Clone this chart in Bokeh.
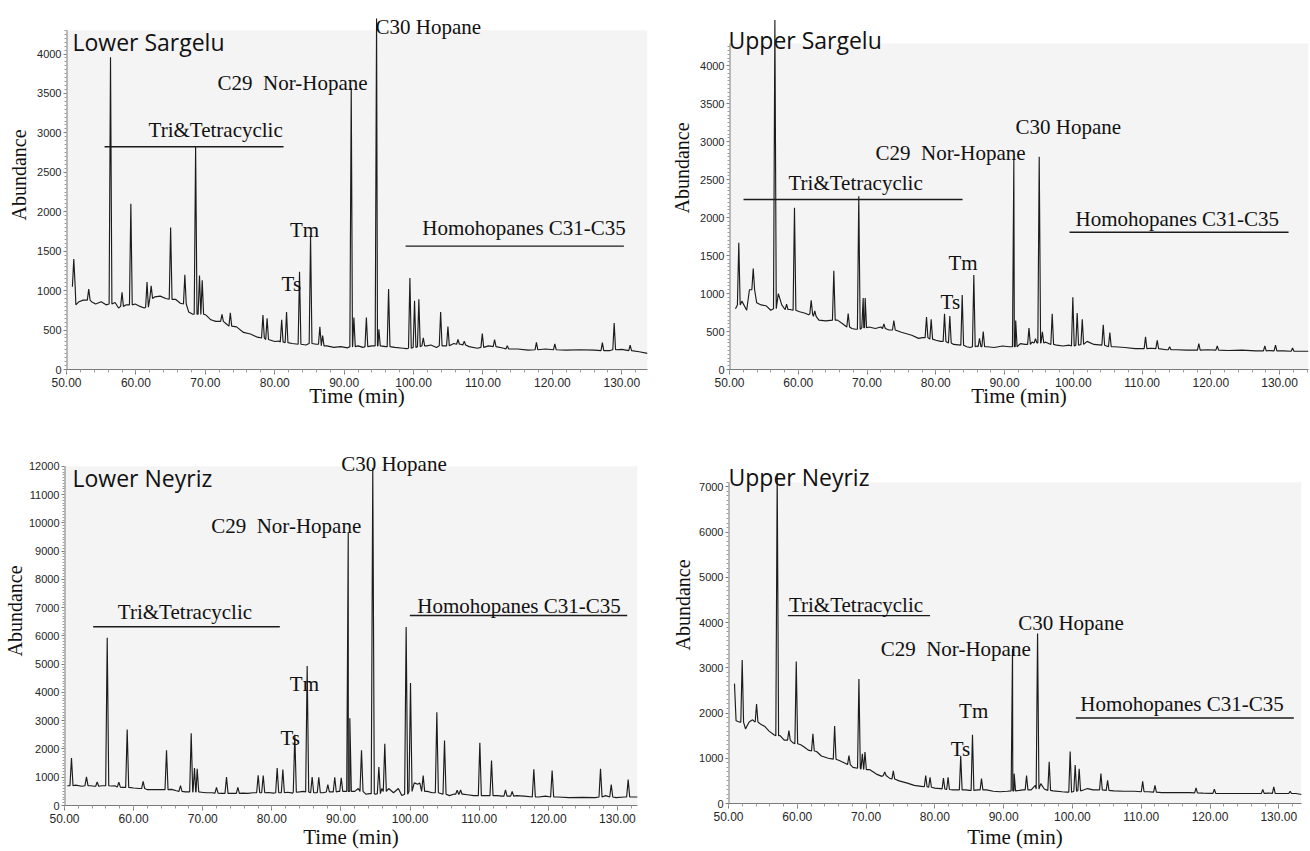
import numpy as np
from bokeh.plotting import figure
from bokeh.models import (Range1d, Label, Title, SingleIntervalTicker, FixedTicker, NumeralTickFormatter,
                          BoxAnnotation)
from bokeh.layouts import row, column
from bokeh.embed import file_html
from bokeh.resources import INLINE

# ---------------- DATA ----------------
# Lower Sargelu
ls_base_t = [50.85, 51.35, 51.8, 52.4, 53.6, 54.2, 55.0, 55.7, 57.0, 57.5, 58.6, 59.9, 60.6, 61.2, 62.7, 63.5, 64.3,
             65.7, 66.4, 67.6, 68.2, 70.1, 70.8, 71.5, 73.0, 74.5, 75.5, 76.5, 77.5, 80.0, 80.6, 82.5, 84.5, 86.0,
             87.5, 88.5, 89.5, 90.5, 92.0, 92.7, 94.0, 96.0, 97.3, 98.5, 99.0, 101.9, 102.5, 103.3, 105.8, 106.8,
             108.0, 109.2, 110.8, 113.0, 115.0, 116.5, 119.0, 122.0, 124.0, 126.0, 128.3, 130.0, 132.5, 133.7]
ls_base_v = [1050, 820, 860, 880, 860, 830, 860, 820, 850, 780, 820, 830, 800, 780, 920, 930, 900,
             890, 840, 730, 700, 690, 630, 610, 580, 540, 470, 450, 410, 355, 360, 330, 310, 320,
             300, 280, 290, 275, 300, 280, 300, 290, 280, 270, 265, 300, 310, 280, 330, 320,
             290, 270, 300, 270, 260, 245, 260, 245, 250, 245, 240, 255, 225, 205]
ls_peak_t = [51.05, 53.2, 56.34, 58.0, 59.27, 61.6, 62.2, 65.0, 67.05, 68.6, 69.16, 69.55, 72.4, 73.6, 78.3,
             78.9, 81.0, 81.7, 83.57, 85.16, 86.5, 86.9, 91.02, 91.4, 93.2, 94.67, 95.0, 96.4, 99.47, 100.14,
             100.76, 101.4, 103.9, 104.95, 106.4, 107.3, 109.9, 111.67, 113.5, 117.7, 120.35, 127.2, 128.9, 131.2]
ls_peak_h = [1400, 1020, 3960, 980, 2100, 1110, 1060, 1800, 1200, 2830, 1190, 1130, 700, 720, 690,
             650, 630, 730, 1240, 1690, 540, 430, 3570, 660, 660, 4450, 510, 1020, 1160, 870,
             890, 400, 730, 545, 380, 360, 455, 380, 300, 345, 325, 340, 590, 310]
ls_peak_b = [1050, 880, 830, 800, 820, 790, 900, 890, 830, 700, 700, 700, 610, 550, 400,
             380, 350, 340, 320, 330, 320, 300, 290, 290, 290, 300, 300, 290, 270, 280,
             290, 300, 300, 300, 320, 310, 280, 290, 260, 250, 250, 240, 250, 240]

# Upper Sargelu
us_base_t = [50.87, 51.8, 52.5, 52.9, 53.95, 54.6, 55.3, 56.0, 57.1, 57.6, 58.0, 58.8, 60.2, 61.0, 61.5, 63.0,
             64.0, 65.7, 66.5, 67.8, 68.3, 70.3, 71.2, 72.0, 73.2, 75.0, 76.5, 77.5, 78.1, 80.0, 80.7, 82.6,
             84.5, 85.0, 86.0, 87.5, 88.5, 89.7, 90.7, 92.3, 93.0, 94.0, 96.0, 97.6, 98.5, 99.4, 102.0, 103.0,
             106.0, 107.5, 109.0, 111.3, 113.5, 115.0, 116.5, 119.5, 122.5, 124.5, 126.5, 128.5, 130.5, 133.0, 134.2]
us_base_v = [800, 900, 780, 1050, 880, 850, 840, 780, 1000, 850, 800, 790, 760, 740, 720, 650,
             640, 650, 600, 540, 530, 560, 540, 560, 520, 490, 450, 410, 420, 385, 370, 330,
             300, 290, 310, 300, 290, 310, 300, 340, 330, 360, 360, 320, 310, 320, 370, 330,
             300, 290, 275, 280, 260, 260, 255, 260, 250, 255, 245, 250, 245, 240, 240]
us_peak_t = [51.35, 53.45, 56.6, 58.3, 59.45, 61.88, 62.4, 65.17, 67.26, 68.8, 69.44, 69.73, 72.45, 73.9, 78.65,
             79.33, 81.27, 82.04, 83.84, 85.53, 86.36, 86.9, 91.35, 91.62, 93.55, 94.5, 95.04, 95.5, 96.93, 99.93,
             100.56, 101.3, 104.35, 105.31, 110.5, 112.2, 114.0, 118.25, 120.93, 127.85, 129.4, 131.88]
us_peak_h = [1670, 1330, 4600, 860, 2130, 910, 770, 1300, 735, 2280, 940, 940, 600, 645, 690,
             660, 735, 705, 980, 1245, 410, 500, 2760, 645, 545, 405, 2800, 495, 735, 950,
             745, 660, 590, 485, 430, 385, 300, 340, 310, 310, 320, 285]
us_peak_b = [850, 1050, 800, 790, 780, 730, 700, 650, 560, 530, 550, 550, 540, 520, 420,
             400, 370, 350, 320, 300, 300, 300, 300, 300, 330, 350, 350, 350, 330, 310,
             320, 330, 320, 300, 275, 275, 260, 255, 255, 245, 245, 240]

# Lower Neyriz
ln_base_t = [50.4, 51.6, 52.5, 53.8, 54.3, 55.4, 56.8, 57.3, 58.4, 60.0, 60.8, 62.0, 63.2, 64.3, 65.5, 66.2,
             67.5, 69.8, 70.5, 71.3, 72.7, 74.2, 75.8, 76.5, 77.3, 79.5, 80.2, 82.3, 83.0, 84.0, 84.6, 86.3,
             87.4, 88.6, 89.6, 90.6, 92.0, 92.5, 93.6, 94.1, 95.0, 95.9, 96.9, 97.6, 98.3, 98.8, 100.6, 101.1,
             101.4, 102.5, 103.2, 105.7, 106.3, 107.6, 108.3, 109.2, 110.8, 112.6, 113.3, 115.4, 116.5, 118.6,
             119.6, 121.4, 123.0, 125.0, 126.8, 128.3, 129.8, 131.0, 132.3, 132.9]
ln_base_v = [700, 720, 680, 700, 680, 700, 690, 700, 640, 620, 600, 560, 560, 560, 570, 520,
             480, 470, 450, 450, 430, 430, 440, 430, 450, 460, 440, 470, 440, 480, 500, 450,
             450, 480, 500, 500, 500, 600, 400, 420, 400, 600, 600, 450, 600, 350, 800, 750,
             800, 500, 450, 350, 400, 400, 380, 350, 350, 350, 330, 350, 330, 300,
             330, 300, 280, 290, 280, 350, 280, 300, 300, 300]
ln_peak_t = [51.01, 53.18, 54.73, 56.18, 57.86, 59.07, 61.38, 64.76, 66.78, 68.33, 68.81, 69.2, 71.99, 73.44,
             75.08, 78.02, 78.75, 80.77, 81.59, 83.32, 85.11, 85.83, 86.79, 88.1, 89.1, 90.04, 91.05, 91.28,
             92.97, 94.6, 95.48, 96.34, 99.43, 100.06, 101.89, 103.87, 104.98, 106.81, 107.3, 110.09, 111.78,
             113.8, 114.77, 117.9, 120.55, 127.55, 129.1, 131.55]
ln_peak_h = [1680, 1010, 830, 5940, 830, 2690, 850, 1950, 700, 2560, 1330, 1300, 640, 1010,
             640, 1070, 1060, 1330, 1270, 2500, 4940, 1010, 1000, 740, 1000, 980, 9650, 3090,
             1950, 11950, 1360, 2180, 6320, 4330, 1060, 3300, 2300, 540, 550, 2220, 1590,
             550, 500, 1280, 1240, 1300, 740, 915]
ln_peak_b = [700, 700, 680, 700, 650, 640, 600, 560, 500, 480, 480, 480, 440, 430,
             430, 450, 450, 450, 450, 470, 480, 450, 450, 480, 480, 500, 500, 500,
             500, 420, 420, 500, 400, 500, 500, 450, 400, 400, 400, 350, 350,
             330, 330, 300, 300, 300, 300, 300]

# Upper Neyriz
un_base_t = [50.87, 51.1, 51.6, 52.47, 53.0, 53.5, 54.7, 55.3, 55.9, 56.6, 57.5, 58.1, 59.3, 60.5, 61.0, 61.6,
             62.8, 63.5, 64.5, 66.1, 66.8, 68.1, 70.5, 71.5, 72.3, 73.4, 74.8, 76.0, 77.0, 78.0, 80.0, 80.8,
             82.6, 83.3, 84.5, 85.0, 86.2, 87.5, 88.5, 89.5, 90.5, 92.3, 92.8, 94.0, 94.6, 95.4, 95.9, 97.2,
             98.5, 99.2, 101.6, 102.2, 103.0, 106.0, 107.5, 109.0, 111.0, 113.0, 115.0, 117.0, 119.0, 122.0,
             124.5, 126.5, 128.5, 130.3, 132.5, 133.3]
un_base_v = [2650, 1830, 1800, 1650, 1800, 1850, 1750, 1700, 1600, 1520, 1500, 1400, 1350, 1300, 1250, 1180,
             1150, 1050, 1000, 950, 900, 800, 750, 650, 600, 560, 500, 450, 400, 380, 340, 330,
             300, 300, 300, 290, 300, 300, 270, 260, 270, 290, 300, 300, 400, 440, 320, 280,
             260, 250, 300, 330, 300, 280, 270, 270, 260, 240, 240, 240, 230, 220,
             220, 220, 230, 220, 220, 200]
un_peak_t = [51.99, 54.08, 57.08, 58.78, 59.85, 62.27, 65.43, 67.51, 68.96, 69.46, 69.84, 72.71, 73.96, 78.67,
             79.3, 81.25, 81.92, 83.76, 85.47, 86.78, 91.29, 91.53, 93.33, 94.93, 96.62, 99.67, 100.4, 100.98,
             104.14, 105.11, 110.21, 112.0, 117.97, 120.63, 127.67, 129.27, 131.65]
un_peak_h = [3170, 2200, 7300, 1610, 3140, 1540, 1710, 1060, 2750, 1100, 1140, 700, 720, 620,
             580, 560, 580, 1050, 1520, 550, 3420, 660, 620, 3760, 920, 1150, 850, 770,
             660, 510, 490, 400, 345, 315, 310, 365, 270]
un_peak_b = [1800, 1800, 1500, 1400, 1320, 1160, 980, 860, 780, 760, 750, 620, 540, 370,
             360, 320, 310, 300, 290, 300, 280, 280, 300, 320, 290, 250, 270, 280,
             300, 290, 260, 250, 235, 225, 225, 225, 220]

# ---------------- rendering helpers ----------------
INK = "#1c1c1c"
SERIF = "Liberation Serif"
AXIS = "#7a7a7a"
GRAY = "#f4f4f4"


def build_trace(bt, bv, pt, ph, pb, w):
    pts = [(t, v) for t, v in zip(bt, bv) if all(abs(t - p) > w for p in pt)]
    for t, h, b in zip(pt, ph, pb):
        pts += [(t - w, b), (t, h), (t + w, b)]
    pts.sort(key=lambda q: q[0])
    return [q[0] for q in pts], [q[1] for q in pts]


def make_panel(cfg):
    p = figure(width=cfg["size"][0], height=cfg["size"][1], output_backend="svg", toolbar_location=None,
               x_range=Range1d(50, cfg["xmax"]), y_range=Range1d(0, cfg["ymax"]),
               min_border_left=cfg["border"][0], min_border_right=cfg["border"][1],
               min_border_top=cfg["border"][2], min_border_bottom=cfg["border"][3])
    p.frame_align = False
    p.background_fill_color = "white"
    p.border_fill_color = "white"
    p.outline_line_color = None
    p.grid.visible = False

    gtop = cfg["gray_top"]
    # grey chart box (the frame is extended upward to hold the labels that sit above it)
    p.add_layout(BoxAnnotation(top=gtop, fill_color=GRAY, fill_alpha=1.0, line_color=None, level="underlay"))

    xa = p.xaxis[0]
    xa.ticker = SingleIntervalTicker(interval=10, num_minor_ticks=5)
    xa.formatter = NumeralTickFormatter(format="0.00")
    ya = p.yaxis[0]
    step = cfg["ystep"]
    majors = list(range(0, int(gtop) + 1, step))
    minors = [v for v in range(0, int(gtop) + 1, step // 10) if v % step]
    ya.ticker = FixedTicker(ticks=majors, minor_ticks=minors)
    for ax in (xa, ya):
        ax.axis_line_color = AXIS
        ax.major_tick_line_color = AXIS
        ax.minor_tick_line_color = "#9a9a9a"
        ax.major_tick_in = 0
        ax.minor_tick_in = 0
        ax.major_label_text_font = "Liberation Sans"
        ax.major_label_text_color = "#262626"
    ya.axis_line_color = None
    xa.major_tick_out = 5
    xa.minor_tick_out = 3
    xa.major_label_standoff = 3
    xa.major_label_text_font_size = "12px"
    xa.axis_label = "Time (min)"
    xa.axis_label_text_font = SERIF
    xa.axis_label_text_font_size = "21px"
    xa.axis_label_text_font_style = "normal"
    xa.axis_label_text_color = "#111111"
    xa.axis_label_standoff = cfg["time_standoff"]
    ya.major_tick_out = 3
    ya.minor_tick_out = 2
    ya.major_label_standoff = 2
    ya.major_label_text_font_size = "11px"

    p.add_layout(Title(text="Abundance", align="left", offset=cfg["abund_offset"], standoff=cfg["abund_standoff"],
                       vertical_align="bottom", text_font=SERIF, text_font_size="20px",
                       text_font_style="normal", text_color="#111111"), "left")

    # y axis line, stopping at the top of the grey box
    p.segment(x0=[50], y0=[0], x1=[50], y1=[gtop], line_color=AXIS, line_width=2)

    tx, ty = build_trace(*cfg["data"], cfg["w"])
    p.line(tx, ty, line_color=INK, line_width=1.15)

    segs = cfg["segs"]
    p.segment(x0=[s[0] for s in segs], x1=[s[1] for s in segs], y0=[s[2] for s in segs],
              y1=[s[2] for s in segs], line_color=INK, line_width=1.4)

    tx0, ty0 = cfg["title_pos"]
    p.add_layout(Label(x=tx0, y=ty0, text=cfg["title"], text_font="Open Sans", text_font_size="23px",
                       text_color="#111111", text_align="left", text_baseline="alphabetic"))
    for text, x, y in cfg["labels"]:
        p.add_layout(Label(x=x, y=y, text=text, text_font=SERIF, text_font_size="21px", text_color="#111111",
                           text_align="left", text_baseline="alphabetic"))
    return p


NOR = "C29\u00a0 Nor-Hopane"

cfg1 = dict(size=(655, 410), border=(66, 8, 8, 39), xmax=133.7, ymax=4577, gray_top=4300, ystep=500, w=0.2,
            data=(ls_base_t, ls_base_v, ls_peak_t, ls_peak_h, ls_peak_b),
            title="Lower Sargelu", title_pos=(50.86, 4155),
            labels=[("C30 Hopane", 94.52, 4342), (NOR, 71.76, 3636), ("Tri&Tetracyclic", 61.82, 3039),
                    ("Tm", 82.18, 1765), ("Ts", 80.98, 1080), ("Homohopanes C31-C35", 101.25, 1800)],
            segs=[(55.48, 81.27, 2825), (98.85, 130.3, 1564)],
            abund_offset=149, abund_standoff=9, time_standoff=-6)

cfg2 = dict(size=(655, 410), border=(74, 2, 18, 39), xmax=134.2, ymax=4621, gray_top=4291, ystep=500, w=0.2,
            data=(us_base_t, us_base_v, us_peak_t, us_peak_h, us_peak_b),
            title="Upper Sargelu", title_pos=(49.85, 4333),
            labels=[("C30 Hopane", 91.59, 3198), (NOR, 71.23, 2850), ("Tri&Tetracyclic", 58.58, 2457),
                    ("Tm", 81.85, 1401), ("Ts", 80.69, 886), ("Homohopanes C31-C35", 100.32, 1977)],
            segs=[(52.04, 83.89, 2238), (99.45, 131.3, 1806)],
            abund_offset=156, abund_standoff=10, time_standoff=-6)

cfg3 = dict(size=(655, 441), border=(64, 18, 34, 44), xmax=132.9, ymax=12774, gray_top=12000, ystep=1000,
            w=0.22,
            data=(ln_base_t, ln_base_v, ln_peak_t, ln_peak_h, ln_peak_b),
            title="Lower Neyriz", title_pos=(51.16, 11602),
            labels=[("C30 Hopane", 90.03, 12095), (NOR, 71.22, 9888), ("Tri&Tetracyclic", 57.72, 6838),
                    ("Tm", 82.6, 4293), ("Ts", 81.25, 2382), ("Homohopanes C31-C35", 101.03, 7048)],
            segs=[(54.15, 81.15, 6324), (99.96, 131.41, 6721)],
            abund_offset=149, abund_standoff=0, time_standoff=-1)

cfg4 = dict(size=(655, 441), border=(73, 9, 45, 46), xmax=133.3, ymax=7693, gray_top=7100, ystep=1000, w=0.2,
            data=(un_base_t, un_base_v, un_peak_t, un_peak_h, un_peak_b),
            title="Upper Neyriz", title_pos=(50.0, 7216),
            labels=[("C30 Hopane", 92.11, 3993), (NOR, 72.12, 3407), ("Tri&Tetracyclic", 58.78, 4396),
                    ("Tm", 83.52, 2051), ("Ts", 82.31, 1209), ("Homohopanes C31-C35", 101.13, 2198)],
            segs=[(58.63, 79.3, 4154), (100.5, 132.18, 1890)],
            abund_offset=153, abund_standoff=6, time_standoff=1)

p1, p2, p3, p4 = (make_panel(c) for c in (cfg1, cfg2, cfg3, cfg4))
layout = column(row(p1, p2), row(p3, p4))

open("out.html", "w").write(file_html(layout, INLINE))
